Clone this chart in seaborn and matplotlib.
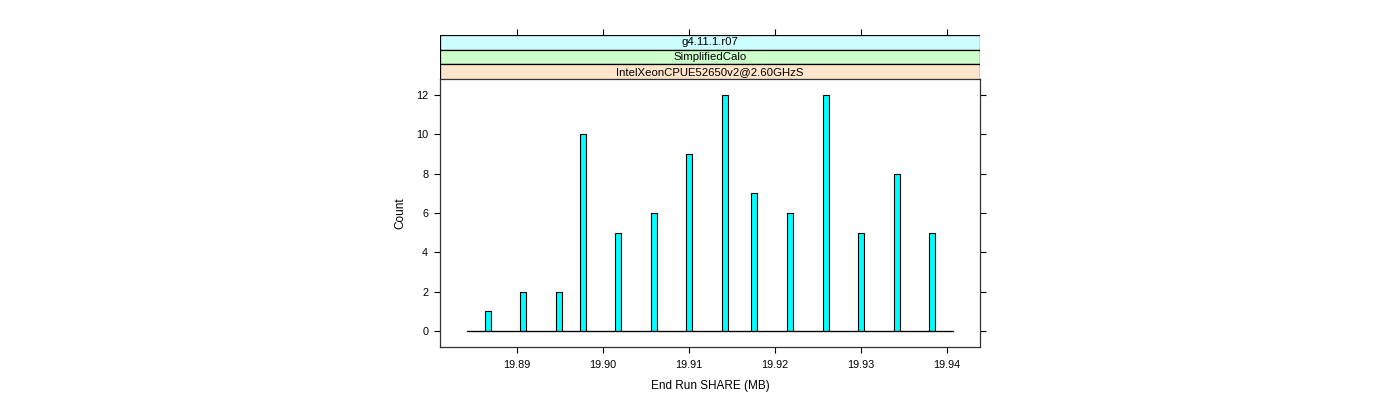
import matplotlib
matplotlib.use("Agg")
import matplotlib.pyplot as plt
import seaborn as sns
import numpy as np

# valores (centros de las barras, MB) y sus cuentas
share_mb = [19.88669, 19.89078, 19.89492, 19.89771, 19.90183, 19.90599, 19.91006,
            19.91422, 19.91764, 19.92180, 19.92590, 19.93004, 19.93415, 19.93828]
counts = [1, 2, 2, 10, 5, 6, 9, 12, 7, 6, 12, 5, 8, 5]

x_ticks = [19.89, 19.90, 19.91, 19.92, 19.93, 19.94]
y_ticks = [0, 2, 4, 6, 8, 10, 12]
strip_labels = ["g4.11.1.r07", "SimplifiedCalo", "IntelXeonCPUE52650v2@2.60GHzS"]
strip_colors = ["#ccffff", "#ccffcc", "#ffe5cc"]
bin_range = (19.884186, 19.940698)

sns.set_style("ticks")
plt.rcParams["font.family"] = ["Liberation Sans", "DejaVu Sans"]
plt.rcParams["text.color"] = "black"
plt.rcParams["axes.labelcolor"] = "black"

W, H = 1400, 400
fig = plt.figure(figsize=(14, 4), dpi=100)

# panel principal
left, right = 440 / W, 980 / W
ax = fig.add_axes([left, 1 - 347 / H, right - left, (347 - 79) / H])

sns.histplot(x=share_mb, weights=counts, bins=82, binrange=bin_range,
             color="#00ffff", edgecolor="black", linewidth=0.8, alpha=1, ax=ax)
# linea base del histograma
ax.plot(bin_range, [0, 0], color="black", linewidth=0.9, zorder=3)

ax.set_xlim(19.88105, 19.94384)
ax.set_ylim(-0.81, 12.81)
ax.set_xticks(x_ticks)
ax.set_xticklabels([f"{t:.2f}" for t in x_ticks])
ax.set_yticks(y_ticks)
ax.tick_params(axis="both", direction="out", length=4.5, width=0.8, labelsize=7.8,
               colors="black", bottom=True, left=True, right=True, top=False, pad=5)
ax.tick_params(axis="y", pad=4)
for s in ax.spines.values():
    s.set_visible(True)
    s.set_color("#333333")
    s.set_linewidth(0.9)
ax.set_xlabel("End Run SHARE (MB)", fontsize=8.5, labelpad=7)
ax.set_ylabel("Count", fontsize=8.5, labelpad=7)

# tiras (strips) arriba del panel
sax = fig.add_axes([left, 1 - 79 / H, right - left, (79 - 35) / H])
sax.set_xlim(ax.get_xlim())
sax.set_ylim(0, 3)
for i, (lab, col) in enumerate(zip(strip_labels, strip_colors)):
    y0 = 2 - i
    sax.add_patch(plt.Rectangle((19.88105, y0), 19.94384 - 19.88105, 1,
                                facecolor=col, edgecolor="black", linewidth=0.9))
    sax.text((19.88105 + 19.94384) / 2, y0 + 0.5, lab, ha="center", va="center",
             fontsize=8.2)
sax.set_xticks(x_ticks)
sax.set_yticks([])
sax.tick_params(axis="x", direction="out", length=4.5, width=0.8, top=True,
                bottom=False, labeltop=False, labelbottom=False, colors="black")
for s in sax.spines.values():
    s.set_visible(False)

fig.savefig("out.png", dpi=100)
